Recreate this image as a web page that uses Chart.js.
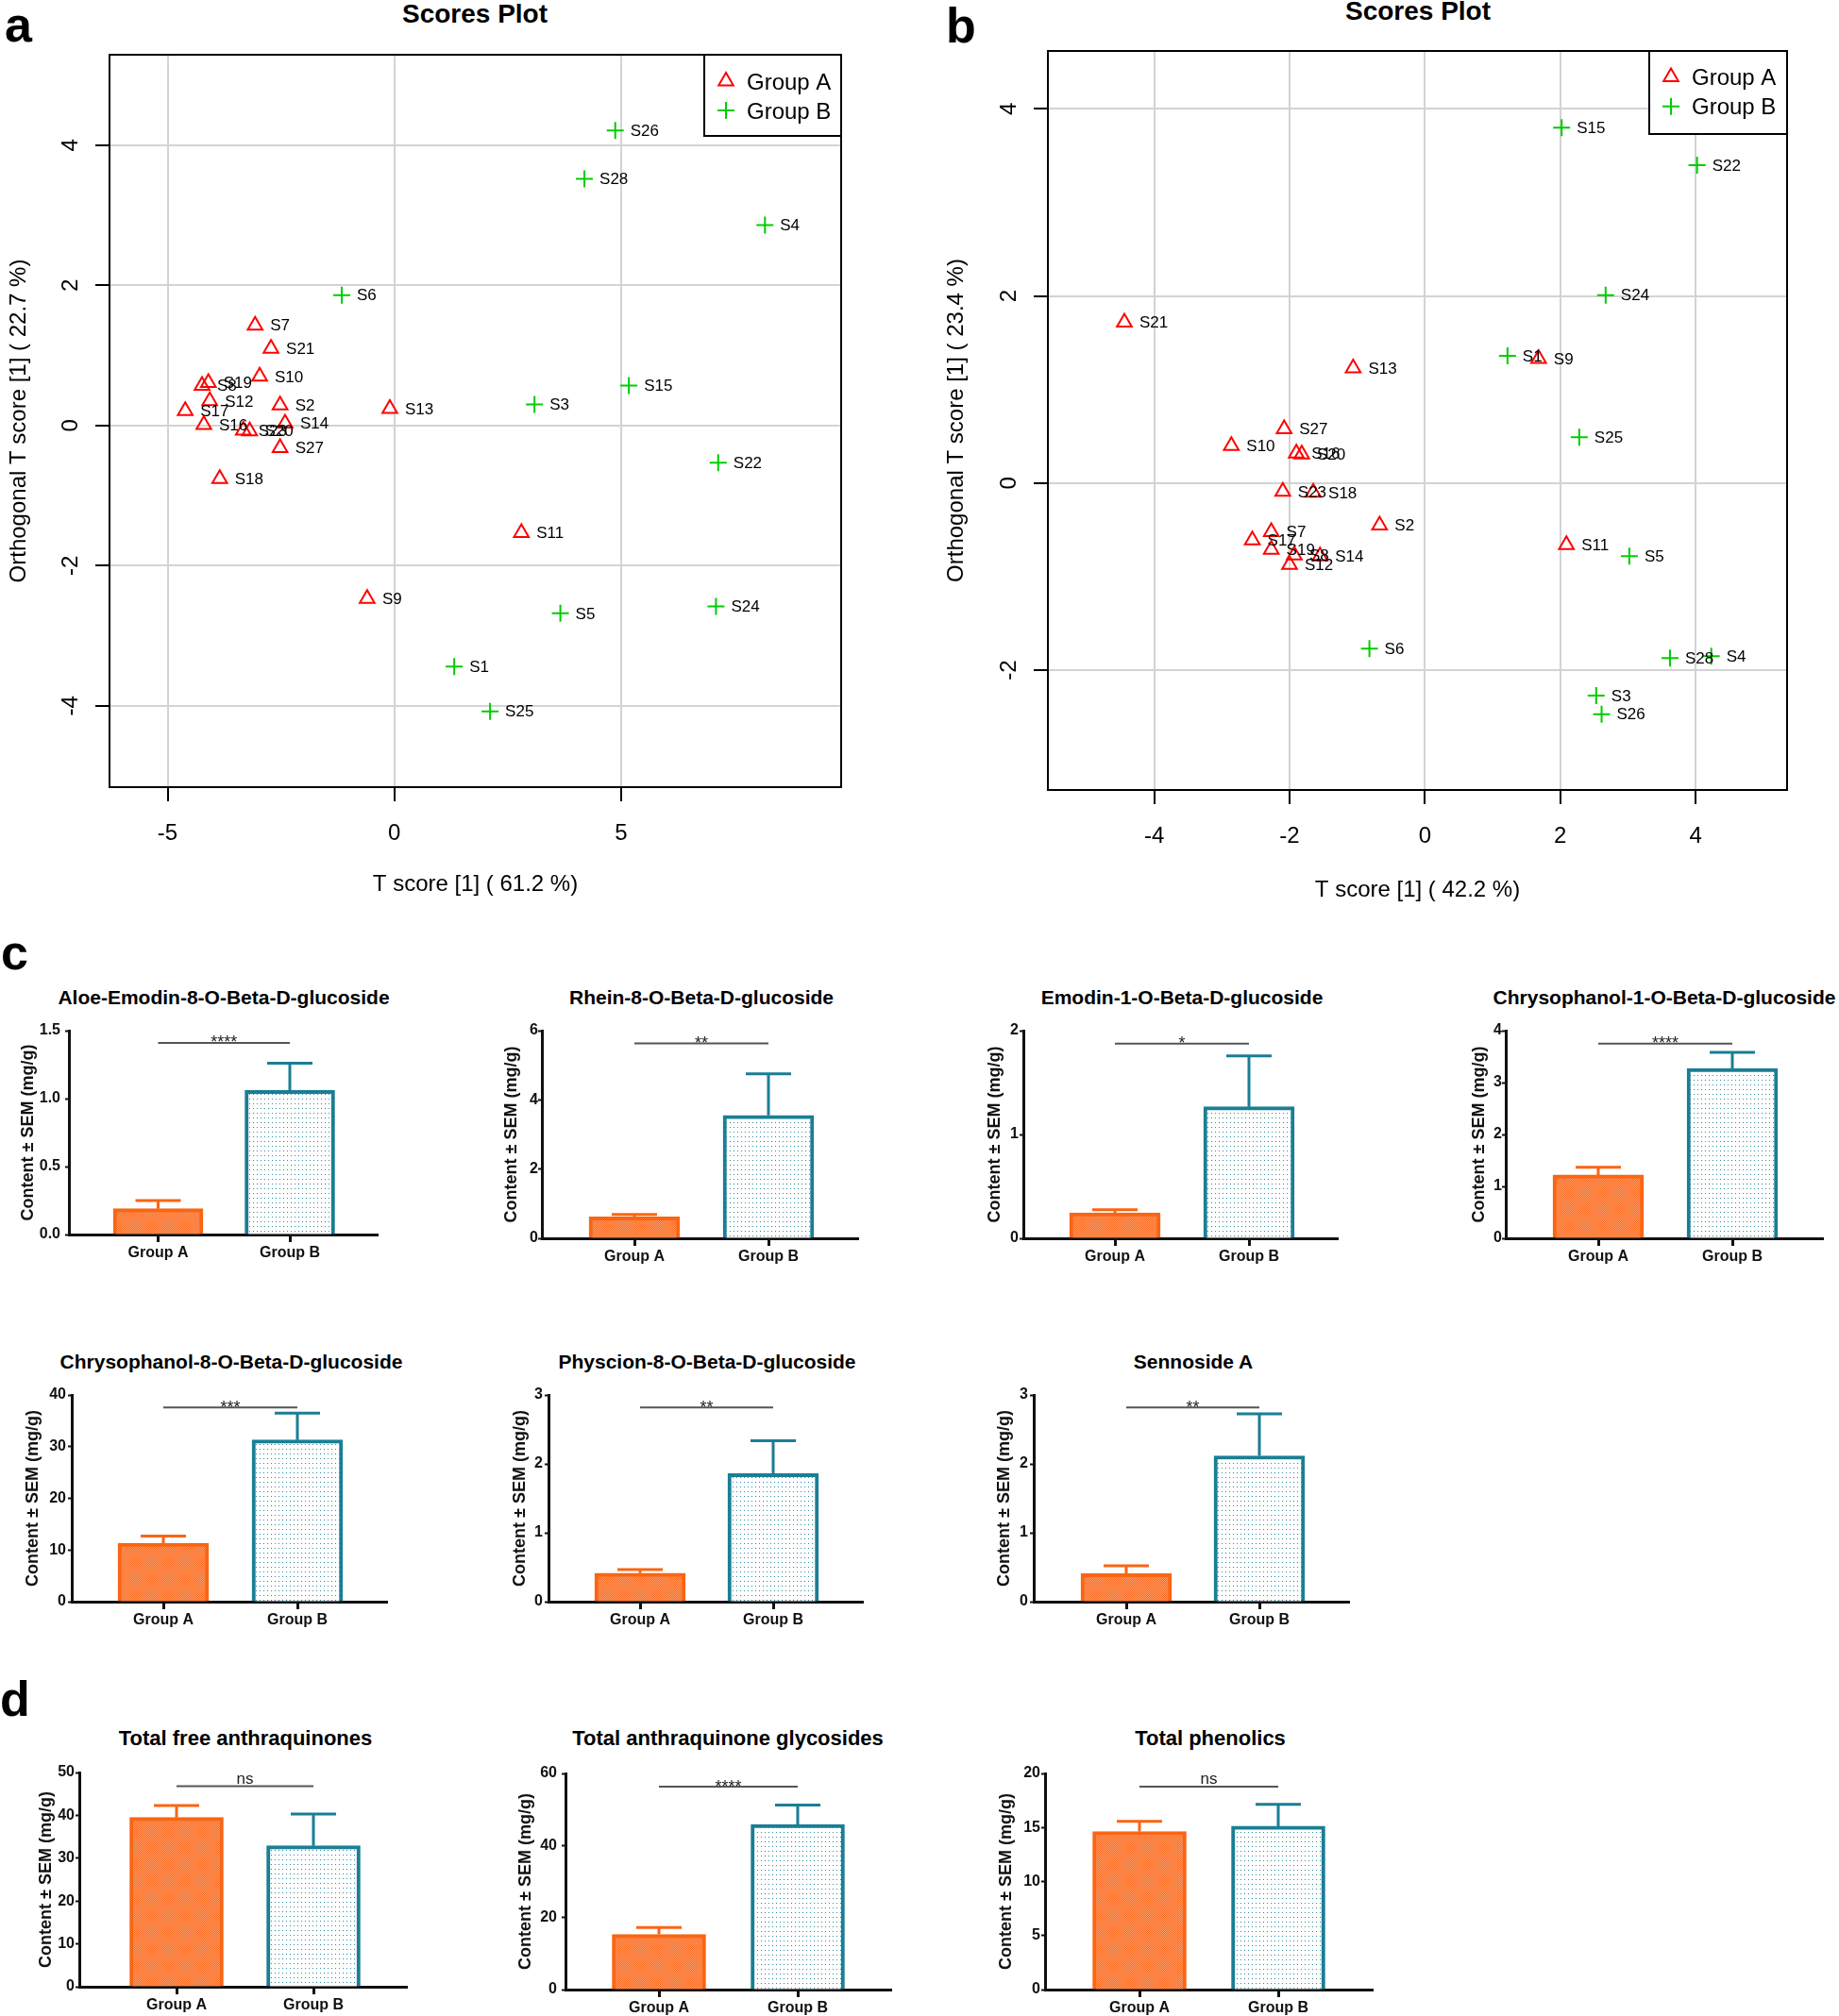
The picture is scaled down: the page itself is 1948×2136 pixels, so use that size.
<!DOCTYPE html>
<html>
<head>
<meta charset="utf-8">
<title>Scores plots and content of anthraquinones</title>
<script src="https://cdn.jsdelivr.net/npm/chart.js@4.4.1/dist/chart.umd.min.js"></script>
<style>
  html, body { margin: 0; padding: 0; background: #fff; }
  body { position: relative; width: 1948px; height: 2136px; overflow: hidden; font-family: "Liberation Sans", Arial, sans-serif; }
  canvas { position: absolute; }
  .letter { position: absolute; font-size: 52px; font-weight: bold; line-height: 52px; color: #000; }
  .title { position: absolute; font-weight: bold; white-space: nowrap; transform: translate(-50%, -50%); line-height: 1; color: #000; }
</style>
</head>
<body>
<div class="letter" style="left:5px;top:0px">a</div>
<div class="letter" style="left:1002px;top:1px">b</div>
<div class="letter" style="left:1px;top:983px">c</div>
<div class="letter" style="left:0px;top:1774px">d</div>

<script>
const groupNames = ['Group A', 'Group B'];

// panel a - scores plot, first model
const aNamesA = ['S7', 'S21', 'S10', 'S8', 'S19', 'S12', 'S17', 'S16', 'S2', 'S14', 'S23', 'S20', 'S27', 'S18', 'S13', 'S11', 'S9'];
const aTA = [-3.07, -2.72, -2.97, -4.24, -4.10, -4.07, -4.61, -4.20, -2.52, -2.41, -3.33, -3.19, -2.52, -3.85, -0.10, 2.80, -0.60];
const aOA = [1.43, 1.10, 0.70, 0.57, 0.61, 0.35, 0.21, 0.01, 0.29, 0.03, -0.07, -0.08, -0.32, -0.76, 0.24, -1.53, -2.47];
const aNamesB = ['S26', 'S28', 'S4', 'S6', 'S15', 'S3', 'S22', 'S24', 'S5', 'S1', 'S25'];
const aTB = [4.87, 4.19, 8.17, -1.16, 5.17, 3.09, 7.14, 7.09, 3.66, 1.32, 2.11];
const aOB = [4.21, 3.52, 2.86, 1.86, 0.57, 0.30, -0.53, -2.58, -2.68, -3.44, -4.08];
const aTicksX = [-5, 0, 5];
const aTicksY = [-4, -2, 0, 2, 4];

// panel b - scores plot, second model
const bNamesA = ['S21', 'S13', 'S9', 'S27', 'S10', 'S16', 'S20', 'S23', 'S18', 'S2', 'S11', 'S7', 'S17', 'S19', 'S8', 'S14', 'S12'];
const bTA = [-4.44, -1.06, 1.68, -2.08, -2.86, -1.90, -1.82, -2.10, -1.65, -0.67, 2.09, -2.27, -2.55, -2.27, -1.93, -1.55, -2.00];
const bOA = [1.72, 1.23, 1.33, 0.58, 0.40, 0.32, 0.31, -0.09, -0.10, -0.45, -0.66, -0.52, -0.61, -0.71, -0.77, -0.78, -0.87];
const bNamesB = ['S15', 'S22', 'S24', 'S1', 'S25', 'S5', 'S6', 'S28', 'S4', 'S3', 'S26'];
const bTB = [2.02, 4.02, 2.67, 1.22, 2.28, 3.02, -0.82, 3.62, 4.23, 2.53, 2.61];
const bOB = [3.80, 3.40, 2.01, 1.36, 0.49, -0.78, -1.77, -1.87, -1.85, -2.27, -2.47];
const bTicksX = [-4, -2, 0, 2, 4];
const bTicksY = [-2, 0, 2, 4];

// panels c and d - content per group (mean and SEM, mg/g)
const compoundTitles = ['Aloe-Emodin-8-O-Beta-D-glucoside', 'Rhein-8-O-Beta-D-glucoside', 'Emodin-1-O-Beta-D-glucoside',
  'Chrysophanol-1-O-Beta-D-glucoside', 'Chrysophanol-8-O-Beta-D-glucoside', 'Physcion-8-O-Beta-D-glucoside', 'Sennoside A',
  'Total free anthraquinones', 'Total anthraquinone glycosides', 'Total phenolics'];
const meanA = [0.19, 0.62, 0.245, 1.22, 11.3, 0.415, 0.406, 39.5, 15.3, 14.63];
const semA = [0.06, 0.07, 0.031, 0.15, 1.4, 0.05, 0.114, 2.8, 1.9, 0.93];
const meanB = [1.06, 3.55, 1.267, 3.27, 31.3, 1.86, 2.116, 32.9, 45.8, 15.12];
const semB = [0.20, 1.20, 0.49, 0.31, 5.2, 0.475, 0.61, 7.4, 5.4, 2.02];
const sigText = ['****', '**', '*', '****', '***', '**', '**', 'ns', '****', 'ns'];
const sigLevel = [1.41, 5.63, 1.876, 3.75, 37.6, 2.82, 2.82, 46.8, 56.3, 18.77];
const yTickSets = [[0, 0.5, 1, 1.5], [0, 2, 4, 6], [0, 1, 2], [0, 1, 2, 3, 4], [0, 10, 20, 30, 40],
  [0, 1, 2, 3], [0, 1, 2, 3], [0, 10, 20, 30, 40, 50], [0, 20, 40, 60], [0, 5, 10, 15, 20]];
const yTickDecimals = [1, 0, 0, 0, 0, 0, 0, 0, 0, 0];
const contentAxisTitle = 'Content \u00b1 SEM (mg/g)';

const RED = '#ff0000', GREEN = '#00cd00';
const ORANGE = '#fa6513', TEAL = '#1a7e95';
const FONT = '"Liberation Sans", Arial, sans-serif';

Chart.defaults.font.family = FONT;
Chart.defaults.color = '#000';

function addCanvas(left, top, width, height) {
  const c = document.createElement('canvas');
  c.width = width; c.height = height;
  c.style.left = left + 'px'; c.style.top = top + 'px';
  c.style.width = width + 'px'; c.style.height = height + 'px';
  document.body.appendChild(c);
  return c;
}

function addTitle(text, x, y, size) {
  const d = document.createElement('div');
  d.className = 'title';
  d.textContent = text;
  d.style.left = x + 'px'; d.style.top = y + 'px'; d.style.fontSize = size + 'px';
  document.body.appendChild(d);
}

function triangle(ctx, x, y, r) {
  let rad = 0;
  ctx.beginPath();
  ctx.moveTo(x + Math.sin(rad) * r, y - Math.cos(rad) * r);
  rad += 2 * Math.PI / 3;
  ctx.lineTo(x + Math.sin(rad) * r, y - Math.cos(rad) * r);
  rad += 2 * Math.PI / 3;
  ctx.lineTo(x + Math.sin(rad) * r, y - Math.cos(rad) * r);
  ctx.closePath();
  ctx.stroke();
}

function cross(ctx, x, y, r) {
  ctx.beginPath();
  ctx.moveTo(x - r, y); ctx.lineTo(x + r, y);
  ctx.moveTo(x, y - r); ctx.lineTo(x, y + r);
  ctx.stroke();
}

// sample names, rotated y labels, frame and legend box for the scores plots
const scoresDecor = {
  id: 'scoresDecor',
  afterDatasetsDraw(chart) {
    const ctx = chart.ctx;
    ctx.save();
    ctx.font = '17px ' + FONT;
    ctx.fillStyle = '#000';
    ctx.textAlign = 'left';
    ctx.textBaseline = 'middle';
    chart.data.datasets.forEach((ds, di) => {
      chart.getDatasetMeta(di).data.forEach((pt, i) => ctx.fillText(ds.names[i], pt.x + 16, pt.y + 1));
    });
    ctx.restore();
  },
  afterDraw(chart, args, opts) {
    const ctx = chart.ctx, a = chart.chartArea, ys = chart.scales.y;
    ctx.save();
    ctx.font = '24px ' + FONT;
    ctx.fillStyle = '#000';
    ctx.textAlign = 'center';
    ctx.textBaseline = 'middle';
    ys.ticks.forEach(t => {
      ctx.save();
      ctx.translate(opts.tickX, ys.getPixelForValue(t.value));
      ctx.rotate(-Math.PI / 2);
      ctx.fillText(String(t.value), 0, 0);
      ctx.restore();
    });
    ctx.strokeStyle = '#000';
    ctx.lineWidth = 2;
    ctx.strokeRect(a.left, a.top, a.right - a.left, a.bottom - a.top);

    const lx = a.right - opts.legendW, ly = a.top;
    ctx.fillStyle = '#fff';
    ctx.fillRect(lx, ly, opts.legendW, opts.legendH);
    ctx.strokeRect(lx, ly, opts.legendW, opts.legendH);
    ctx.lineWidth = 2;
    ctx.strokeStyle = RED;
    triangle(ctx, lx + 23, ly + opts.rowY[0], 9);
    ctx.strokeStyle = GREEN;
    cross(ctx, lx + 23, ly + opts.rowY[1], 9);
    ctx.fillStyle = '#000';
    ctx.textAlign = 'left';
    chart.data.datasets.forEach((ds, di) => ctx.fillText(ds.label, lx + 45, ly + opts.rowY[di] + 2));
    ctx.restore();
  }
};

function scoresPlot(p) {
  const canvas = addCanvas(p.L - p.yw, p.T - 18, p.R - p.L + p.yw + 17, p.B - p.T + 18 + p.xh);
  const pts = (xs, ys) => xs.map((x, i) => ({x: x, y: ys[i]}));
  new Chart(canvas, {
    type: 'scatter',
    data: {
      datasets: [
        {label: groupNames[0], names: p.namesA, data: pts(p.tA, p.oA), pointStyle: 'triangle', pointRadius: 9,
         borderColor: RED, backgroundColor: 'rgba(0,0,0,0)', borderWidth: 2},
        {label: groupNames[1], names: p.namesB, data: pts(p.tB, p.oB), pointStyle: 'cross', pointRadius: 9,
         borderColor: GREEN, backgroundColor: GREEN, borderWidth: 2}
      ]
    },
    options: {
      responsive: false,
      animation: false,
      devicePixelRatio: 1,
      layout: {padding: {top: 18, right: 17, left: 0, bottom: 0}},
      plugins: {
        legend: {display: false},
        tooltip: {enabled: false},
        scoresDecor: {tickX: p.tickX, legendW: p.legW, legendH: p.legH, rowY: p.rowY}
      },
      scales: {
        x: {
          type: 'linear', min: p.xMin, max: p.xMax,
          afterBuildTicks: s => { s.ticks = p.xTicks.map(v => ({value: v})); },
          afterFit: s => { s.height = p.xh; },
          grid: {color: '#d3d3d3', lineWidth: 2, tickColor: '#000', tickWidth: 2, tickLength: 15},
          border: {display: true, color: '#000', width: 2},
          ticks: {font: {size: 24}, color: '#000', padding: p.xTickPad, maxRotation: 0},
          title: {display: true, text: p.xTitle, font: {size: 24}, color: '#000', padding: {top: 0, bottom: p.xTitlePad}}
        },
        y: {
          type: 'linear', min: p.yMin, max: p.yMax,
          afterBuildTicks: s => { s.ticks = p.yTicks.map(v => ({value: v})); },
          afterFit: s => { s.width = p.yw; },
          grid: {color: '#d3d3d3', lineWidth: 2, tickColor: '#000', tickWidth: 2, tickLength: 15},
          border: {display: true, color: '#000', width: 2},
          ticks: {display: false},
          title: {display: true, text: p.yTitle, font: {size: 24}, color: '#000', padding: {top: p.yTitlePad, bottom: 0}}
        }
      }
    },
    plugins: [scoresDecor]
  });
}

addTitle('Scores Plot', 503, 15, 28);
addTitle('Scores Plot', 1502, 12, 28);

scoresPlot({
  L: 116, R: 891, T: 58, B: 834, yw: 116, xh: 136,
  xMin: -6.28, xMax: 9.85, yMin: -5.16, yMax: 5.29,
  xTicks: aTicksX, yTicks: aTicksY,
  namesA: aNamesA, tA: aTA, oA: aOA, namesB: aNamesB, tB: aTB, oB: aOB,
  xTitle: 'T score [1] ( 61.2 %)', yTitle: 'Orthogonal T score [1] ( 22.7 %)',
  xTickPad: 20, xTitlePad: 18.6, yTitlePad: 5.6, tickX: 75,
  legW: 145, legH: 86, rowY: [28, 59]
});

scoresPlot({
  L: 1110, R: 1893, T: 54, B: 837, yw: 120, xh: 133,
  xMin: -5.57, xMax: 5.35, yMin: -3.28, yMax: 4.62,
  xTicks: bTicksX, yTicks: bTicksY,
  namesA: bNamesA, tA: bTA, oA: bOA, namesB: bNamesB, tB: bTB, oB: bOB,
  xTitle: 'T score [1] ( 42.2 %)', yTitle: 'Orthogonal T score [1] ( 23.4 %)',
  xTickPad: 20, xTitlePad: 12.6, yTitlePad: 8.6, tickX: 79,
  legW: 146, legH: 88, rowY: [27.5, 58.7]
});

// ---- bar charts ----
function makePattern(w, h, bg, fg, cells) {
  const c = document.createElement('canvas');
  c.width = w; c.height = h;
  const g = c.getContext('2d');
  g.fillStyle = bg;
  g.fillRect(0, 0, w, h);
  g.fillStyle = fg;
  cells.forEach(([x, y]) => g.fillRect(x, y, 1, 1));
  return g.createPattern(c, 'repeat');
}
const patA = makePattern(2, 2, '#f9651a', '#ffa06c', [[0, 0], [1, 1]]);
const patB = makePattern(4, 5, '#ffffff', '#2c8aa2', [[1, 2]]);

const barLayout = [
  {L: 73, R: 400, T: 1092, B: 1308, xa: 167.5, xb: 307, yt: 43, tp: 5, tx: 237, ty: 1056, ts: 21, bw: 95},
  {L: 574, R: 909, T: 1092, B: 1312, xa: 672, xb: 814, yt: 32, tp: 0, tx: 743, ty: 1056, ts: 21, bw: 96},
  {L: 1084, R: 1417, T: 1092, B: 1312, xa: 1181, xb: 1323, yt: 30, tp: 1, tx: 1252, ty: 1056, ts: 21, bw: 96},
  {L: 1595, R: 1931, T: 1092, B: 1312, xa: 1693, xb: 1835, yt: 28, tp: 0, tx: 1763, ty: 1056, ts: 21, bw: 96},
  {L: 76, R: 410, T: 1478, B: 1697, xa: 173, xb: 315, yt: 41, tp: 2, tx: 245, ty: 1442, ts: 21, bw: 96},
  {L: 581, R: 914, T: 1478, B: 1697, xa: 678, xb: 819, yt: 30, tp: 2, tx: 749, ty: 1442, ts: 21, bw: 96},
  {L: 1095, R: 1429, T: 1478, B: 1697, xa: 1193, xb: 1334, yt: 31, tp: 2, tx: 1264, ty: 1442, ts: 21, bw: 96},
  {L: 84, R: 431, T: 1878, B: 2105, xa: 187, xb: 332, yt: 35, tp: 1, tx: 260, ty: 1842, ts: 22, bw: 99},
  {L: 599, R: 944, T: 1879, B: 2108, xa: 698, xb: 845, yt: 42, tp: 5, tx: 771, ty: 1842, ts: 22, bw: 99},
  {L: 1107, R: 1454, T: 1879, B: 2108, xa: 1207, xb: 1354, yt: 41, tp: 1, tx: 1282, ty: 1842, ts: 22, bw: 99}
];

// error bars (upper SEM only) and the significance bracket
const barDecor = {
  id: 'barDecor',
  afterDatasetsDraw(chart, args, opts) {
    const i = opts.index;
    const ctx = chart.ctx, xs = chart.scales.x, ys = chart.scales.y;
    const meta = chart.getDatasetMeta(0);
    const groups = [[meanA, semA, ORANGE], [meanB, semB, TEAL]];
    ctx.save();
    ctx.lineWidth = 3;
    groups.forEach(([m, s, col], g) => {
      const bar = meta.data[g];
      const yTop = ys.getPixelForValue(m[i] + s[i]);
      ctx.strokeStyle = col;
      ctx.beginPath();
      ctx.moveTo(bar.x, bar.y);
      ctx.lineTo(bar.x, yTop);
      ctx.moveTo(bar.x - 24, yTop);
      ctx.lineTo(bar.x + 24, yTop);
      ctx.stroke();
    });
    const yS = ys.getPixelForValue(sigLevel[i]);
    const x1 = xs.getPixelForValue(1), x2 = xs.getPixelForValue(2);
    ctx.strokeStyle = '#555';
    ctx.lineWidth = 2;
    ctx.beginPath();
    ctx.moveTo(x1, yS);
    ctx.lineTo(x2, yS);
    ctx.stroke();
    ctx.fillStyle = '#222';
    ctx.textAlign = 'center';
    ctx.textBaseline = 'alphabetic';
    if (sigText[i] === 'ns') {
      ctx.font = '17px ' + FONT;
      ctx.fillText(sigText[i], (x1 + x2) / 2, yS - 3);
    } else {
      ctx.font = '18px ' + FONT;
      ctx.fillText(sigText[i], (x1 + x2) / 2, yS + 5.5);
    }
    ctx.restore();
  }
};

function barChart(i) {
  const lay = barLayout[i];
  const yw = 70, xh = 40, pt = 20, pr = 12;
  const canvas = addCanvas(lay.L - yw, lay.T - pt, lay.R - lay.L + yw + pr, lay.B - lay.T + pt + xh);
  const span = lay.xb - lay.xa;
  const ticks = yTickSets[i];
  addTitle(compoundTitles[i], lay.tx, lay.ty, lay.ts);
  new Chart(canvas, {
    type: 'bar',
    data: {
      datasets: [{
        data: [{x: 1, y: meanA[i]}, {x: 2, y: meanB[i]}],
        backgroundColor: [patA, patB],
        borderColor: [ORANGE, TEAL],
        borderWidth: 4,
        borderSkipped: 'start',
        barThickness: lay.bw
      }]
    },
    options: {
      responsive: false,
      animation: false,
      devicePixelRatio: 1,
      layout: {padding: {top: pt, right: pr, left: 0, bottom: 0}},
      plugins: {legend: {display: false}, tooltip: {enabled: false}, barDecor: {index: i}},
      scales: {
        x: {
          type: 'linear', offset: false,
          min: 1 - (lay.xa - lay.L) / span, max: 2 + (lay.R - lay.xb) / span,
          afterBuildTicks: s => { s.ticks = [{value: 1}, {value: 2}]; },
          afterFit: s => { s.height = xh; },
          grid: {display: true, offset: false, drawOnChartArea: false, tickLength: 8, tickWidth: 3, tickColor: '#111'},
          border: {display: true, color: '#111', width: 3},
          ticks: {callback: v => groupNames[v - 1], font: {size: 16, weight: 'bold'}, color: '#111', padding: 2, maxRotation: 0, autoSkip: false}
        },
        y: {
          min: 0, max: ticks[ticks.length - 1],
          afterBuildTicks: s => { s.ticks = ticks.map(v => ({value: v})); },
          afterFit: s => { s.width = yw; },
          grid: {display: true, drawOnChartArea: false, tickLength: 4, tickWidth: 2, tickColor: '#111'},
          border: {display: true, color: '#111', width: 3},
          ticks: {callback: v => v.toFixed(yTickDecimals[i]), font: {size: 16, weight: 'bold'}, color: '#111', padding: lay.tp},
          title: {display: true, text: contentAxisTitle, font: {size: 18, weight: 'bold'}, color: '#111',
                  padding: {top: 59.2 - lay.yt, bottom: 0}}
        }
      }
    },
    plugins: [barDecor]
  });
}

for (let i = 0; i < compoundTitles.length; i++) barChart(i);
</script>
</body>
</html>
